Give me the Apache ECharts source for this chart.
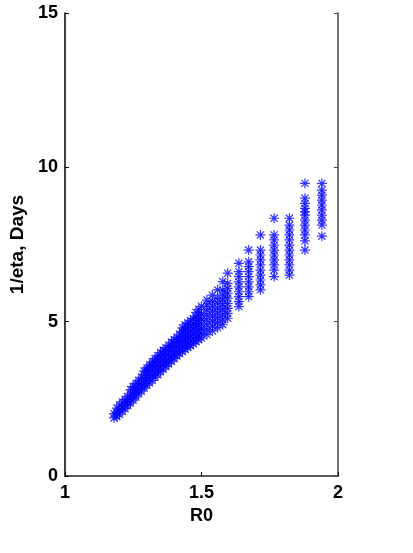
<!DOCTYPE html>
<html>
<head>
<meta charset="utf-8">
<script src="https://cdn.jsdelivr.net/npm/echarts@6/dist/echarts.min.js"></script>
<style>
  html, body { margin: 0; padding: 0; background: #fff; }
  #main { width: 413px; height: 553px; }
</style>
</head>
<body>
<div id="main"></div>
<script>
  // R0 value of each column of points
  const r0Columns = [
    1.18, 1.19, 1.20, 1.21, 1.22, 1.23, 1.24, 1.25, 1.26, 1.27, 1.28, 1.29,
    1.30, 1.31, 1.32, 1.33, 1.34, 1.35, 1.36, 1.37, 1.38, 1.39, 1.40, 1.41,
    1.42, 1.43, 1.44, 1.45, 1.46, 1.47, 1.48, 1.49, 1.50, 1.52, 1.54, 1.559,
    1.578, 1.596, 1.637, 1.673, 1.716, 1.766, 1.822, 1.879, 1.941
  ]
  // 1/eta (days) of the points in each column
  const etaColumns = [
    [1.88, 2.02],
    [1.92, 2.06, 2.2],
    [2.0, 2.14, 2.3],
    [2.1, 2.24, 2.4],
    [2.18, 2.32, 2.48],
    [2.28, 2.42, 2.58],
    [2.36, 2.5, 2.66, 2.8],
    [2.46, 2.6, 2.76, 2.9],
    [2.56, 2.7, 2.86, 3.0],
    [2.66, 2.8, 2.96, 3.1],
    [2.75, 2.9, 3.06, 3.2],
    [2.85, 3.0, 3.15, 3.3, 3.4],
    [2.94, 3.1, 3.25, 3.4, 3.5],
    [3.02, 3.18, 3.34, 3.5, 3.6],
    [3.1, 3.26, 3.42, 3.58, 3.7],
    [3.2, 3.36, 3.52, 3.68, 3.8],
    [3.28, 3.44, 3.6, 3.76, 3.9],
    [3.38, 3.54, 3.7, 3.86, 4.0],
    [3.46, 3.62, 3.78, 3.94, 4.08],
    [3.55, 3.7, 3.86, 4.02, 4.16],
    [3.63, 3.78, 3.94, 4.1, 4.24],
    [3.72, 3.88, 4.04, 4.2, 4.34],
    [3.8, 3.96, 4.12, 4.28, 4.42],
    [3.89, 4.04, 4.2, 4.36, 4.5],
    [3.96, 4.12, 4.28, 4.44, 4.6],
    [4.03, 4.2, 4.36, 4.52, 4.68, 4.8],
    [4.1, 4.26, 4.42, 4.58, 4.74, 4.9],
    [4.16, 4.32, 4.48, 4.64, 4.8, 4.96],
    [4.22, 4.38, 4.54, 4.7, 4.86, 5.04],
    [4.28, 4.44, 4.6, 4.76, 4.92, 5.1],
    [4.35, 4.5, 4.66, 4.82, 4.98, 5.16, 5.3],
    [4.41, 4.56, 4.72, 4.88, 5.04, 5.2, 5.4],
    [4.47, 4.62, 4.78, 4.94, 5.1, 5.26, 5.5],
    [4.58, 4.74, 4.9, 5.06, 5.22, 5.38, 5.54, 5.7],
    [4.7, 4.86, 5.02, 5.18, 5.34, 5.5, 5.66, 5.86],
    [4.8, 4.96, 5.12, 5.28, 5.44, 5.6, 5.76, 6.03],
    [4.9, 5.06, 5.22, 5.38, 5.54, 5.7, 5.86, 6.02, 6.3],
    [5.11, 5.27, 5.43, 5.59, 5.76, 5.92, 6.08, 6.24, 6.57],
    [5.49, 5.65, 5.81, 5.97, 6.13, 6.29, 6.46, 6.62, 6.89],
    [5.81, 5.97, 6.13, 6.29, 6.46, 6.62, 6.78, 6.94, 7.32],
    [6.03, 6.19, 6.35, 6.51, 6.67, 6.84, 7.0, 7.16, 7.32, 7.81],
    [6.46, 6.67, 6.84, 7.0, 7.16, 7.32, 7.48, 7.65, 7.81, 8.35],
    [6.51, 6.67, 6.84, 7.0, 7.16, 7.32, 7.48, 7.65, 7.81, 7.97, 8.13, 8.35],
    [7.32, 7.62, 7.81, 7.97, 8.13, 8.29, 8.45, 8.56, 8.67, 8.83, 9.0, 9.48],
    [7.77, 8.13, 8.29, 8.45, 8.62, 8.78, 8.94, 9.1, 9.26, 9.48]
  ]
  const xTicks = [1, 1.5, 2]
  const yTicks = [0, 5, 10, 15]

  // flatten columns into [R0, 1/eta] pairs
  const points = []
  r0Columns.forEach((r0, i) => {
    etaColumns[i].forEach(v => points.push([r0, v]))
  })

  // matlab style '*' marker: plus + cross made of thin bars
  const asterisk = 'path://M0,8.8H20V11.2H0Z M8.8,0H11.2V20H8.8Z ' +
    'M3.78,2.08L17.92,16.22L16.22,17.92L2.08,3.78Z ' +
    'M2.08,16.22L16.22,2.08L17.92,3.78L3.78,17.92Z'

  const font = { fontFamily: 'Liberation Sans, Arial, sans-serif', fontSize: 18, fontWeight: 'bold', color: '#000' }

  let chart = echarts.init(document.getElementById('main'))
  chart.setOption({
    animation: false,
    grid: { left: 64, right: 75, top: 13, bottom: 77 },
    xAxis: [
      {
        type: 'value', min: xTicks[0], max: xTicks[xTicks.length - 1], interval: 0.5,
        name: 'R0', nameLocation: 'middle', nameGap: 29, nameTextStyle: font,
        axisLine: { lineStyle: { color: '#000', width: 1.5 } },
        axisTick: { inside: true, length: 4, lineStyle: { color: '#000' } },
        axisLabel: Object.assign({ margin: 8 }, font),
        splitLine: { show: false }
      },
      {
        type: 'value', position: 'top', min: 1, max: 2, interval: 0.5,
        axisLine: { lineStyle: { color: '#666', width: 1.5 } },
        axisTick: { show: false },
        axisLabel: { show: false },
        splitLine: { show: false }
      }
    ],
    yAxis: [
      {
        type: 'value', min: yTicks[0], max: yTicks[yTicks.length - 1], interval: 5,
        name: '1/eta, Days', nameLocation: 'middle', nameGap: 37, nameRotate: 90,
        nameTextStyle: Object.assign({}, font, { fontSize: 19 }),
        axisLine: { lineStyle: { color: '#000', width: 1.5 } },
        axisTick: { inside: true, length: 4, lineStyle: { color: '#000' } },
        axisLabel: Object.assign({ margin: 7 }, font),
        splitLine: { show: false }
      },
      {
        type: 'value', position: 'right', min: 0, max: 15, interval: 5,
        axisLine: { lineStyle: { color: '#444', width: 1.5 } },
        axisTick: { inside: true, length: 4, lineStyle: { color: '#444' } },
        axisLabel: { show: false },
        splitLine: { show: false }
      }
    ],
    series: [
      {
        type: 'scatter',
        silent: true,
        data: points,
        symbol: asterisk,
        symbolSize: 10,
        itemStyle: { color: '#0000ff' }
      }
    ]
  })
</script>
</body>
</html>
